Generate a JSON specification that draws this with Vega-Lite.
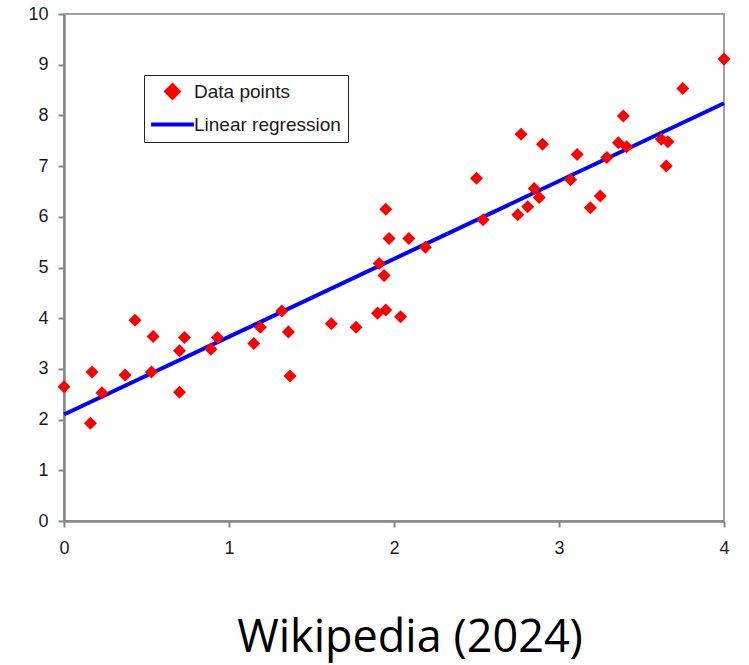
{
  "$schema": "https://vega.github.io/schema/vega-lite/v6.json",
  "width": 660,
  "height": 507,
  "autosize": {"type": "none"},
  "padding": {"left": 64, "top": 14, "right": 25, "bottom": 144},
  "background": "white",
  "title": {
    "text": "Wikipedia (2024)",
    "orient": "bottom",
    "font": "Open Sans",
    "fontSize": 45,
    "fontWeight": "normal",
    "color": "black",
    "anchor": "middle",
    "dx": 16,
    "offset": 59
  },
  "config": {
    "view": {"stroke": "#a0a0a0", "strokeWidth": 2},
    "axis": {
      "grid": false,
      "domainColor": "#888888",
      "domainWidth": 2.5,
      "tickColor": "#888888",
      "tickWidth": 2,
      "tickSize": 6,
      "labelFont": "Liberation Sans",
      "labelFontSize": 18,
      "labelColor": "#1a1a1a",
      "labelFlush": false,
      "labelOverlap": false,
      "title": null
    }
  },
  "datasets": {
    "pts": [
      {"x": 0.0, "y": 2.65, "series": "Data points"},
      {"x": 0.17, "y": 2.94, "series": "Data points"},
      {"x": 0.16, "y": 1.93, "series": "Data points"},
      {"x": 0.23, "y": 2.53, "series": "Data points"},
      {"x": 0.37, "y": 2.88, "series": "Data points"},
      {"x": 0.43, "y": 3.96, "series": "Data points"},
      {"x": 0.54, "y": 3.64, "series": "Data points"},
      {"x": 0.53, "y": 2.94, "series": "Data points"},
      {"x": 0.70, "y": 3.36, "series": "Data points"},
      {"x": 0.73, "y": 3.62, "series": "Data points"},
      {"x": 0.70, "y": 2.54, "series": "Data points"},
      {"x": 0.89, "y": 3.39, "series": "Data points"},
      {"x": 0.93, "y": 3.62, "series": "Data points"},
      {"x": 1.15, "y": 3.50, "series": "Data points"},
      {"x": 1.19, "y": 3.82, "series": "Data points"},
      {"x": 1.32, "y": 4.14, "series": "Data points"},
      {"x": 1.36, "y": 3.73, "series": "Data points"},
      {"x": 1.37, "y": 2.86, "series": "Data points"},
      {"x": 1.62, "y": 3.89, "series": "Data points"},
      {"x": 1.77, "y": 3.82, "series": "Data points"},
      {"x": 1.90, "y": 4.10, "series": "Data points"},
      {"x": 1.95, "y": 4.16, "series": "Data points"},
      {"x": 2.04, "y": 4.03, "series": "Data points"},
      {"x": 1.91, "y": 5.08, "series": "Data points"},
      {"x": 1.94, "y": 4.84, "series": "Data points"},
      {"x": 1.95, "y": 6.15, "series": "Data points"},
      {"x": 1.97, "y": 5.57, "series": "Data points"},
      {"x": 2.09, "y": 5.57, "series": "Data points"},
      {"x": 2.19, "y": 5.40, "series": "Data points"},
      {"x": 2.50, "y": 6.76, "series": "Data points"},
      {"x": 2.54, "y": 5.94, "series": "Data points"},
      {"x": 2.77, "y": 7.63, "series": "Data points"},
      {"x": 2.90, "y": 7.43, "series": "Data points"},
      {"x": 2.75, "y": 6.04, "series": "Data points"},
      {"x": 2.81, "y": 6.20, "series": "Data points"},
      {"x": 2.85, "y": 6.56, "series": "Data points"},
      {"x": 2.88, "y": 6.38, "series": "Data points"},
      {"x": 3.07, "y": 6.73, "series": "Data points"},
      {"x": 3.11, "y": 7.23, "series": "Data points"},
      {"x": 3.19, "y": 6.18, "series": "Data points"},
      {"x": 3.25, "y": 6.41, "series": "Data points"},
      {"x": 3.29, "y": 7.17, "series": "Data points"},
      {"x": 3.36, "y": 7.46, "series": "Data points"},
      {"x": 3.39, "y": 7.99, "series": "Data points"},
      {"x": 3.41, "y": 7.38, "series": "Data points"},
      {"x": 3.62, "y": 7.53, "series": "Data points"},
      {"x": 3.66, "y": 7.48, "series": "Data points"},
      {"x": 3.65, "y": 7.00, "series": "Data points"},
      {"x": 3.75, "y": 8.53, "series": "Data points"},
      {"x": 4.0, "y": 9.11, "series": "Data points"}
    ],
    "fit": [
      {"x": 0, "y": 2.1, "series": "Linear regression"},
      {"x": 4, "y": 8.24, "series": "Linear regression"}
    ]
  },
  "layer": [
    {
      "data": {"name": "fit"},
      "mark": {"type": "line", "strokeWidth": 4, "clip": false},
      "encoding": {
        "x": {"field": "x", "type": "quantitative", "scale": {"domain": [0, 4], "nice": false},
              "axis": {"values": [0, 1, 2, 3, 4], "format": "d", "labelPadding": 12}},
        "y": {"field": "y", "type": "quantitative", "scale": {"domain": [0, 10], "nice": false},
              "axis": {"values": [0,1,2,3,4,5,6,7,8,9,10], "format": "d", "labelPadding": 10}},
        "color": {
          "field": "series", "type": "nominal",
          "scale": {"domain": ["Data points", "Linear regression"], "range": ["#ff0000", "#0000ff"]},
          "legend": {
            "title": null,
            "orient": "none",
            "legendX": 80,
            "legendY": 61,
            "padding": 7,
            "strokeColor": "#222222",
            "fillColor": "white",
            "labelFont": "Liberation Sans",
            "labelFontSize": 19,
            "labelColor": "#1a1a1a",
            "symbolSize": 150,
            "symbolStrokeWidth": 0,
            "symbolOffset": 12,
            "labelOffset": 12,
            "rowPadding": 9,
            "encode": {
              "symbols": {
                "update": {
                  "shape": {"signal": "datum.value == 'Data points' ? 'diamond' : 'M-3.5,0H3.5'"},
                  "fill": {"signal": "datum.value == 'Data points' ? '#ff0000' : 'transparent'"},
                  "stroke": {"signal": "datum.value == 'Data points' ? 'transparent' : '#0000ff'"},
                  "strokeWidth": {"value": 4},
                  "opacity": {"value": 1}
                }
              }
            }
          }
        }
      }
    },
    {
      "data": {"name": "pts"},
      "mark": {"type": "point", "shape": "diamond", "filled": true, "size": 170, "opacity": 1, "clip": false},
      "encoding": {
        "x": {"field": "x", "type": "quantitative"},
        "y": {"field": "y", "type": "quantitative"},
        "color": {"field": "series", "type": "nominal"}
      }
    }
  ]
}
